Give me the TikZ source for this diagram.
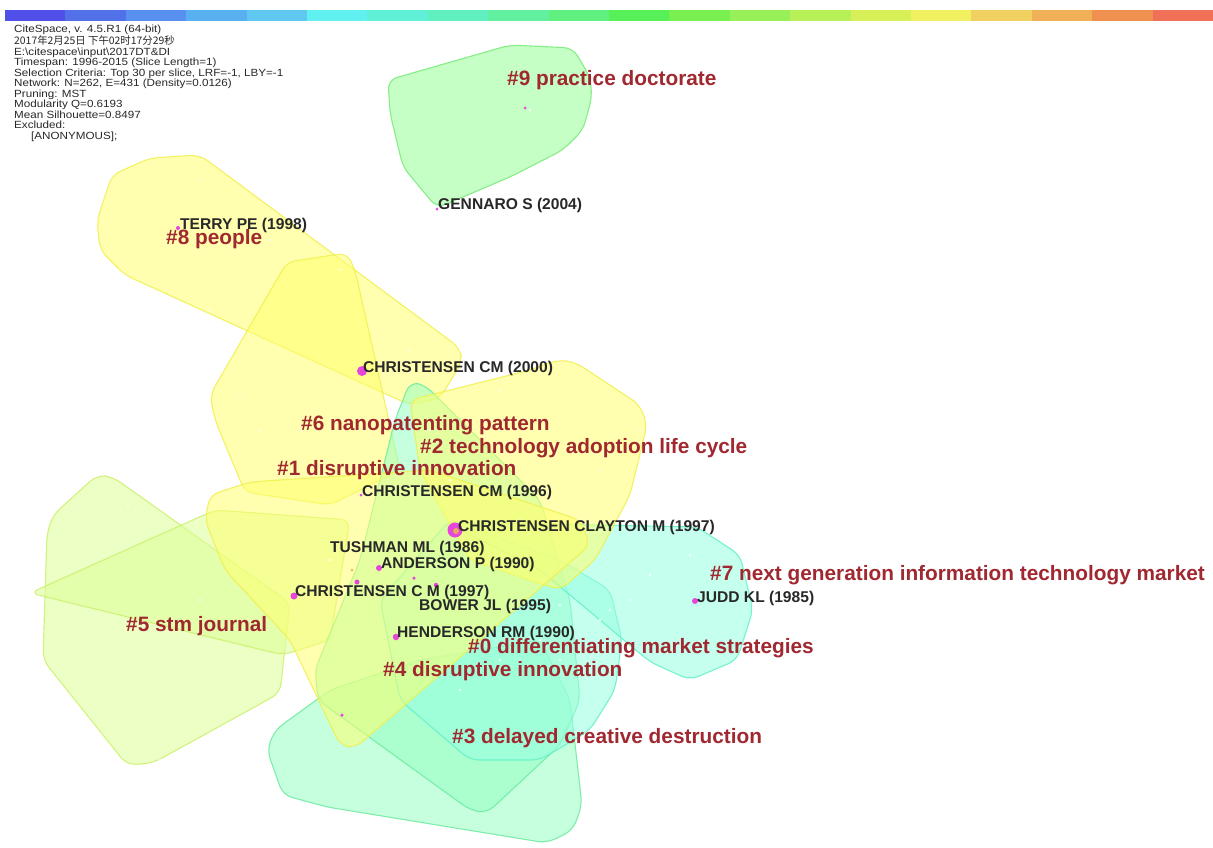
\documentclass[tikz,border=0pt]{standalone}
\usepackage{fontspec}
\setmainfont{Liberation Sans}
\newfontfamily\cjk{Noto Sans CJK SC}
\newfontfamily\infofont[FakeStretch=1.12]{Liberation Sans}
\begin{document}
\begin{tikzpicture}[x=1pt,y=-1pt,
  hull/.style={rounded corners=9pt, line width=1.1pt, fill opacity=0.55, draw opacity=0.85},
  ylw/.style={hull, fill={rgb,255:red,255;green,255;blue,110}, draw={rgb,255:red,240;green,240;blue,80}},
  ylg/.style={hull, fill={rgb,255:red,222;green,255;blue,150}, draw={rgb,255:red,205;green,240;blue,110}},
  grn/.style={hull, fill={rgb,255:red,150;green,255;blue,150}, draw={rgb,255:red,120;green,235;blue,120}},
  mnt/.style={hull, fill={rgb,255:red,150;green,255;blue,195}, draw={rgb,255:red,110;green,235;blue,160}},
  cyn/.style={hull, fill={rgb,255:red,150;green,255;blue,225}, draw={rgb,255:red,100;green,240;blue,200}},
  ref/.style={circle, inner sep=0pt, fill={rgb,255:red,230;green,70;blue,220}},
  wdot/.style={circle, inner sep=0pt, minimum size=2.6pt, fill=white, fill opacity=0.8},
  nlab/.style={anchor=west, inner sep=0pt, font=\bfseries\fontsize{15.6}{16}\selectfont, text={rgb,255:red,40;green,40;blue,40}},
  clab/.style={anchor=west, inner sep=0pt, font=\bfseries\fontsize{20.8}{22}\selectfont, text={rgb,255:red,160;green,40;blue,48}},
  info/.style={anchor=north west, inner sep=0pt, align=left, font=\infofont\fontsize{10.4}{10.5}\selectfont, text={rgb,255:red,40;green,40;blue,40}}
]
\useasboundingbox (0,0) rectangle (1213,847);
\fill[white] (0,0) rectangle (1213,847);

% timeline colour bar
\foreach \i/\r/\g/\b in {0/80/80/232,1/82/112/232,2/88/144/240,3/88/176/240,4/96/200/240,
  5/96/240/240,6/96/240/216,7/96/240/192,8/96/240/160,9/96/240/128,10/88/240/88,
  11/120/240/80,12/152/240/88,13/184/240/88,14/216/240/88,15/240/240/96,16/240/208/96,
  17/240/176/88,18/240/144/80,19/240/112/88}{
  \definecolor{seg}{RGB}{\r,\g,\b}
  \fill[seg] ({5+60.4*\i},10) rectangle ({5+60.4*(\i+1)},21);
}

% cluster hulls
\path[ylw] (97,220) -- (112,175) -- (150,158) -- (200,155) -- (460,348) -- (462,362) -- (440,398) -- (410,405) -- (125,275) -- (100,250) -- cycle;
\path[ylw] (287,262) -- (347,253) -- (355,270) -- (400,470) -- (330,505) -- (245,492) -- (215,420) -- (210,395) -- cycle;
\path[grn] (390,113) -- (388,80) -- (510,45) -- (573,48) -- (590,77) -- (592,97) -- (583,130) -- (563,150) -- (510,177) -- (437,208) -- (403,167) -- cycle;
\path[ylg] (47,533) -- (53,515) -- (97,475) -- (113,477) -- (290,603) -- (280,693) -- (153,763) -- (127,765) -- (43,660) -- cycle;
\path[ylg] (30,593) -- (215,510) -- (350,520) -- (330,640) -- (283,655) -- cycle;
\path[mnt] (267,750) -- (275,730) -- (330,690) -- (420,660) -- (540,640) -- (570,700) -- (582,805) -- (573,830) -- (547,843) -- (327,807) -- (283,795) -- cycle;
\path[mnt] (410,382) -- (425,385) -- (540,500) -- (570,600) -- (580,700) -- (560,745) -- (487,813) -- (470,810) -- (318,700) -- (315,670) -- (360,560) -- (395,420) -- cycle;
\path[cyn] (450,520) -- (560,560) -- (610,590) -- (622,640) -- (615,690) -- (590,730) -- (540,760) -- (470,760) -- (400,700) -- (380,600) -- cycle;
\path[cyn] (445,522) -- (697,527) -- (740,555) -- (753,610) -- (737,660) -- (690,680) -- (650,662) -- (600,620) -- (540,570) -- cycle;
\path[ylw] (410,400) -- (530,370) -- (557,360) -- (575,362) -- (640,405) -- (647,425) -- (630,495) -- (595,560) -- (560,590) -- (470,560) -- (420,470) -- cycle;
\path[ylw] (210,495) -- (250,482) -- (430,470) -- (580,520) -- (590,545) -- (355,748) -- (340,745) -- (290,640) -- (225,570) -- (205,520) -- cycle;

% minor references
\foreach \x/\y in {430,128/505,115/445,160/480,160/150,200/180,270/240,210/310,240/395,260/430,320/235,340/270,300/430,410/235,360/480,330/560,600/470,580/520,560/605,650/575,700/650,720/700,600/620,500/660,540/330,750/400,790/500,820/445,640/520,690/555,620/740,580/85,530/110,580/160,690/140,700/205,640/430,720/300,500/390,460/560,450/480,520/520,610/610,410/350,540/640,560/660,600/725,520/660,640/680,680/740,630/600,780/715,640/350,620/700,200/600,160/760,800/300,780/360,640/230,470/380,455/600,460/690}
  \node[wdot] at (\x,\y) {};

% cited references
\node[ref, minimum size=3pt] (r1) at (525,108) {};
\node[ref, minimum size=3pt] (r2) at (437,209) {};
\node[ref, minimum size=4pt] (r3) at (178,228) {};
\node[ref, minimum size=10pt] (r4) at (362,371) {};
\node[ref, minimum size=3pt] (r5) at (361,495) {};
\node[ref, minimum size=15pt] (r6) at (455,530) {};
\node[circle, inner sep=0pt, minimum size=6pt, fill={rgb,255:red,230;green,170;blue,90}] (r6c) at (456,531) {};
\node[ref, minimum size=6pt] (r7) at (379,568) {};
\node[ref, minimum size=7pt] (r8) at (294,596) {};
\node[ref, minimum size=5pt] (r9) at (357,582) {};
\node[ref, minimum size=3.5pt] (r10) at (414,578) {};
\node[ref, minimum size=4.5pt] (r11) at (436,585) {};
\node[ref, minimum size=6.5pt] (r12) at (396,637) {};
\node[ref, minimum size=3.5pt] (r13) at (342,715) {};
\node[ref, minimum size=6pt] (r14) at (695,601) {};
\node[circle, inner sep=0pt, minimum size=3pt, fill={rgb,255:red,240;green,180;blue,110}] (r15) at (352,570) {};

% reference labels
\node[nlab] (l1) at (438,205) {GENNARO S (2004)};
\node[nlab] (l2) at (180,225) {TERRY PE (1998)};
\node[nlab] (l3) at (363,368) {CHRISTENSEN CM (2000)};
\node[nlab] (l4) at (362,492) {CHRISTENSEN CM (1996)};
\node[nlab] (l5) at (458,527) {CHRISTENSEN CLAYTON M (1997)};
\node[nlab] (l6) at (330,548) {TUSHMAN ML (1986)};
\node[nlab] (l7) at (381,564) {ANDERSON P (1990)};
\node[nlab] (l8) at (295,592) {CHRISTENSEN C M (1997)};
\node[nlab] (l9) at (419,606) {BOWER JL (1995)};
\node[nlab] (l10) at (397,633) {HENDERSON RM (1990)};
\node[nlab] (l11) at (697,598) {JUDD KL (1985)};

% cluster labels
\node[clab] (c9) at (507,80) {\#9 practice doctorate};
\node[clab] (c8) at (166,239) {\#8 people};
\node[clab] (c6) at (301,425) {\#6 nanopatenting pattern};
\node[clab] (c2) at (420,448) {\#2 technology adoption life cycle};
\node[clab] (c1) at (277,470) {\#1 disruptive innovation};
\node[clab] (c7) at (710,575) {\#7 next generation information technology market};
\node[clab] (c5) at (126,626) {\#5 stm journal};
\node[clab] (c0) at (468,648) {\#0 differentiating market strategies};
\node[clab] (c4) at (383,671) {\#4 disruptive innovation};
\node[clab] (c3) at (452,738) {\#3 delayed creative destruction};

% run summary
\node[info] (meta) at (14,25) {CiteSpace, v. 4.5.R1 (64-bit)\\
{\cjk 2017年2月25日 下午02时17分29秒}\\
E:\textbackslash citespace\textbackslash input\textbackslash 2017DT\&DI\\
Timespan: 1996-2015 (Slice Length=1)\\
Selection Criteria: Top 30 per slice, LRF=-1, LBY=-1\\
Network: N=262, E=431 (Density=0.0126)\\
Pruning: MST\\
Modularity Q=0.6193\\
Mean Silhouette=0.8497\\
Excluded:\\
\hspace*{17pt}[ANONYMOUS];};
\end{tikzpicture}
\end{document}
